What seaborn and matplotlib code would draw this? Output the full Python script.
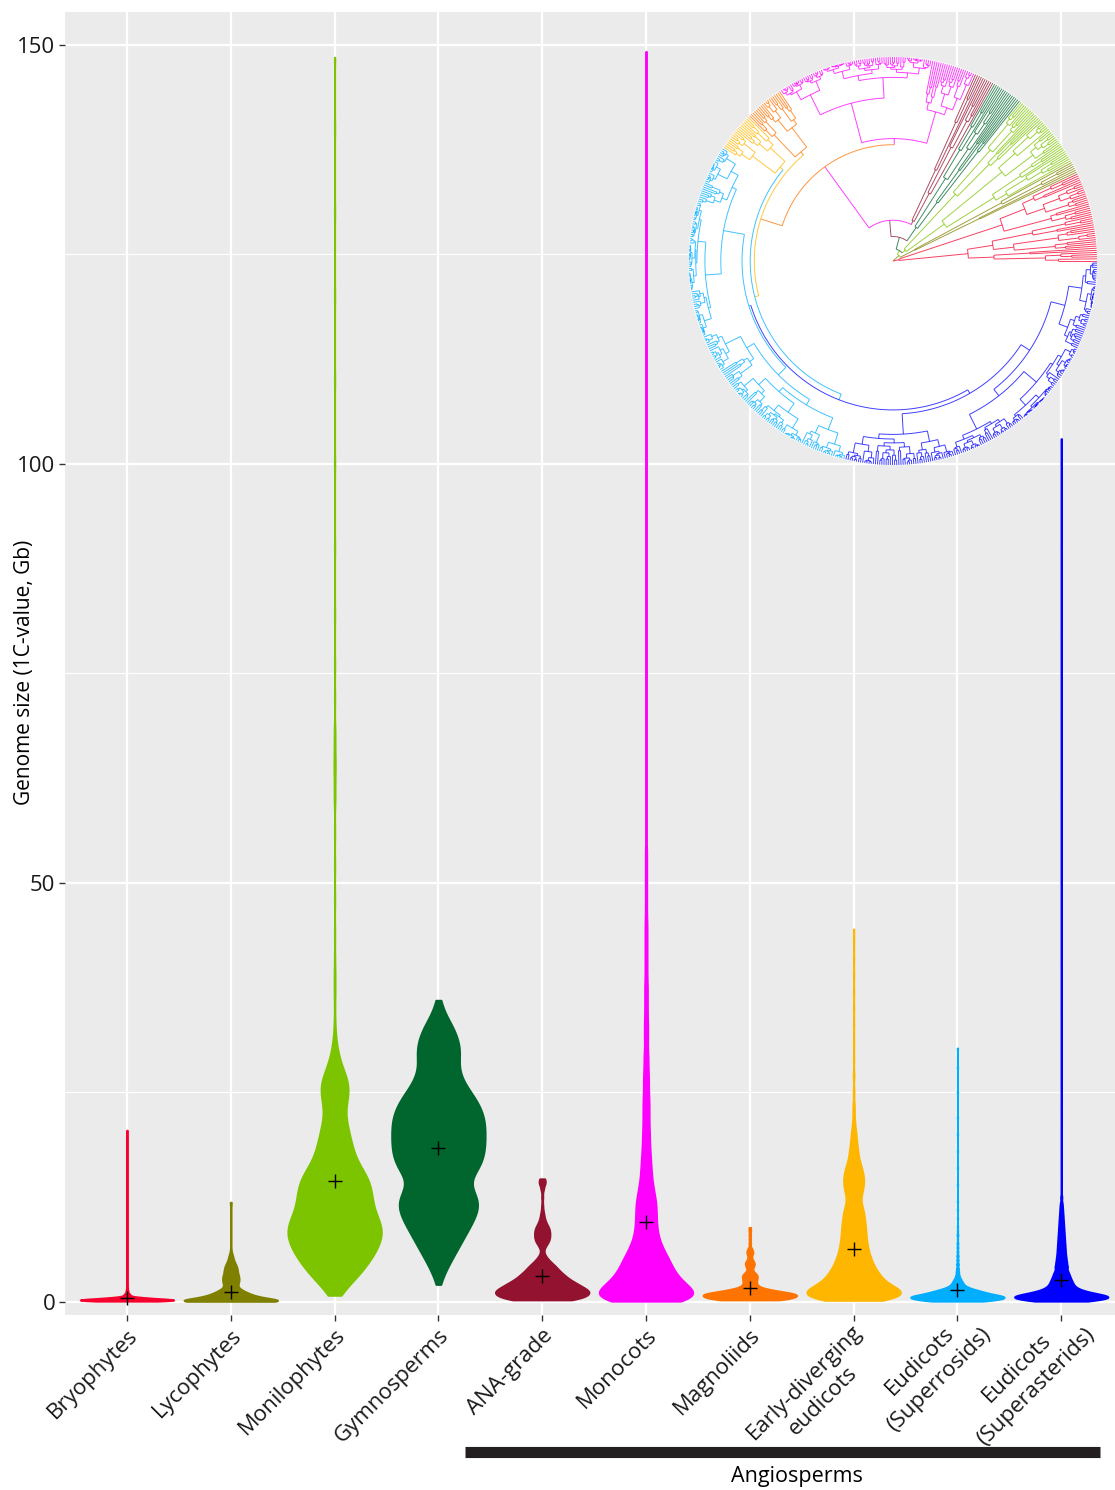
import numpy as np
import pandas as pd
import seaborn as sns
import matplotlib
matplotlib.use("Agg")
import matplotlib.pyplot as plt
from matplotlib.collections import LineCollection
from matplotlib.patches import Circle

plt.rcParams['font.family'] = ['Open Sans', 'DejaVu Sans']

# ---- data (genome size in Gb, with species counts) ----
groups = ["Bryophytes", "Lycophytes", "Monilophytes", "Gymnosperms", "ANA-grade",
          "Monocots", "Magnoliids", "Early-diverging eudicots",
          "Eudicots (Superrosids)", "Eudicots (Superasterids)"]
tick_labels = ["Bryophytes", "Lycophytes", "Monilophytes", "Gymnosperms", "ANA-grade",
               "Monocots", "Magnoliids", "Early-diverging\neudicots",
               "Eudicots\n(Superrosids)", "Eudicots\n(Superasterids)"]

bryo_gb = [0.1, 0.2, 0.3, 0.4, 0.5, 0.6, 0.8, 1.0, 1.3, 1.6, 2.0, 2.5, 3.0, 4.0, 5.0,
           6.0, 7.0, 8.0, 9.0, 10.0, 12.0, 14.0, 16.0, 18.0, 20.5]
bryo_n = [60, 100, 85, 55, 32, 20, 12, 8, 5, 3, 2, 1, 1, 1, 1,
          1, 1, 1, 1, 1, 1, 1, 1, 1, 1]

lyco_gb = [0.08, 0.35, 0.6, 0.85, 1.1, 1.35, 1.6, 1.85, 2.1, 2.35, 2.6, 2.85, 3.1, 3.35,
           3.6, 3.85, 4.1, 4.35, 4.6, 4.85, 5.1, 5.35, 5.6, 5.85, 6.1, 6.5, 7.0, 7.5,
           8.0, 8.5, 9.0, 9.5, 10.0, 10.5, 11.0, 11.5, 11.9]
lyco_n = [150, 70, 50, 38, 30, 22, 15, 12, 13, 14, 15, 15, 14, 13,
          12, 12, 11, 10, 8, 6, 5, 4, 3, 2, 1, 1, 1, 1,
          1, 1, 1, 1, 1, 1, 1, 1, 2]

moni_gb = [0.8, 1.5, 2.5, 3.5, 4.5, 5.5, 6.5, 7.5, 8.5, 9.5, 10.5, 11.5, 12.5, 13.5,
           14.5, 15.5, 16.5, 17.5, 18.5, 19.5, 20.5, 21.5, 22.5, 23.5, 24.5, 25.5, 26.5,
           27.5, 28.5, 29.5, 30.5, 31.5, 33, 35, 37, 39, 41, 44, 48, 52, 56, 60, 62,
           64, 66, 68, 72, 76, 82, 90, 100, 110, 120, 130, 140, 148.5]
moni_n = [8, 20, 38, 55, 68, 80, 90, 97, 100, 95, 86, 80, 78, 76,
          72, 62, 50, 42, 37, 33, 29, 25, 22, 24, 28, 30, 27,
          20, 13, 8, 5, 3, 2, 1, 2, 2, 1, 1, 1, 1, 1, 2, 2,
          3, 2, 2, 1, 1, 1, 1, 1, 1, 1, 1, 1, 1]

gymno_gb = [2.1, 3, 4, 5, 6, 7, 8, 9, 10, 11, 12, 13, 14, 15, 16, 17, 18, 19, 20, 21,
            22, 23, 24, 25, 26, 27, 28, 29, 30, 31, 32, 33, 34, 35, 36]
gymno_n = [3, 10, 18, 28, 38, 48, 58, 68, 78, 85, 88, 78, 66, 72, 88, 95, 99, 100, 100, 100,
           98, 92, 83, 70, 57, 48, 43, 45, 47, 44, 38, 30, 18, 10, 5]

ana_gb = [0.25, 0.75, 1.25, 1.75, 2.25, 2.75, 3.25, 3.75, 4.25, 4.75, 5.25, 5.75, 6.25,
          6.75, 7.25, 7.75, 8.25, 8.75, 9.25, 9.75, 10.25, 10.75, 11.5, 12.5, 13.5, 14.2, 14.7]
ana_n = [70, 95, 100, 85, 70, 55, 45, 35, 28, 18, 10, 4, 3,
         8, 14, 16, 16, 15, 10, 6, 4, 3, 2, 2, 4, 8, 6]

mono_gb = [0.1, 1, 2, 3, 4, 5, 6, 7, 8, 9, 10, 11, 12, 13, 14, 15, 16, 17, 18, 19, 20,
           21, 22, 23, 24, 25, 26, 27, 28, 29, 30, 31.5, 33, 34.5, 36, 37.5, 39, 40.5,
           42, 43.5, 45, 46.5, 48, 49.5, 51, 52.5, 54, 56, 60, 65, 70, 80, 90, 100, 110,
           120, 130, 140, 149.2]
mono_n = [75, 100, 80, 62, 52, 45, 36, 28, 23, 21, 20, 20, 19, 16, 13, 11, 10, 9, 8, 7, 7,
          6, 6, 6, 6, 5, 5, 5, 4, 4, 4, 5, 5, 4, 4, 4, 3, 3,
          3, 3, 3, 2, 2, 2, 2, 2, 2, 1, 1, 1, 1, 1, 1, 1, 1,
          1, 1, 1, 1]

magno_gb = [0.25, 0.5, 0.75, 1.0, 1.25, 1.5, 1.75, 2.0, 2.25, 2.5, 2.75, 3.0, 3.25, 3.5,
            3.75, 4.0, 4.25, 4.5, 4.75, 5.0, 5.25, 5.5, 5.75, 6.0, 6.25, 6.5, 7.0, 7.5,
            8.0, 8.5, 8.9]
magno_n = [70, 90, 100, 95, 65, 40, 22, 16, 14, 14, 15, 16, 15, 10,
           6, 6, 8, 10, 9, 6, 4, 4, 6, 7, 5, 3, 3, 3,
           3, 3, 3]

early_gb = [0.2, 0.7, 1.2, 1.7, 2.2, 2.7, 3.2, 3.7, 4.2, 4.7, 5.2, 5.7, 6.2, 6.7, 7.2,
            7.7, 8.2, 8.7, 9.2, 9.7, 10.2, 10.7, 11.2, 11.7, 12.2, 12.7, 13.2, 13.7,
            14.2, 14.7, 15.2, 15.7, 16.2, 16.7, 17.2, 17.7, 18.2, 18.7, 19.2, 19.7,
            20.2, 20.7, 21.5, 22.5, 23.5, 25, 27, 29, 31, 33, 35, 37, 39, 41, 43, 44.5]
early_n = [70, 95, 100, 85, 68, 58, 52, 46, 41, 37, 34, 31, 29, 27, 26,
           25, 24, 24, 23, 22, 21, 20, 18, 15, 14, 15, 17, 19,
           20, 20, 19, 17, 15, 12, 10, 9, 8, 7, 6, 5,
           5, 4, 4, 3, 3, 2, 2, 1, 1, 1, 1, 1, 1, 1, 1, 1]

rosid_gb = [0.1, 0.3, 0.5, 0.7, 0.9, 1.1, 1.3, 1.5, 1.7, 1.9, 2.1, 2.3, 2.5, 2.7, 2.9,
            3.2, 3.6, 4.0, 4.5, 5.0, 5.5, 6.0, 6.5, 7.0, 7.5, 8.0, 8.5, 9.0, 10, 11,
            12, 14, 16, 18, 20, 22, 25, 28, 30.3]
rosid_n = [60, 85, 100, 95, 75, 60, 48, 35, 24, 17, 13, 11, 9, 7, 6,
           6, 5, 4, 4, 3, 3, 2, 2, 2, 1, 2, 1, 1, 1, 1,
           1, 1, 1, 1, 1, 1, 1, 1, 1]

aster_gb = [0.1, 0.35, 0.6, 0.85, 1.1, 1.35, 1.6, 1.85, 2.1, 2.35, 2.6, 2.85, 3.1, 3.35,
            3.6, 3.85, 4.25, 4.75, 5.25, 5.75, 6.25, 6.75, 7.25, 7.75, 8.25, 8.75, 9.25,
            9.75, 10.25, 10.75, 11.25, 11.75, 12.5, 14, 16, 18, 20, 23, 26, 30, 35, 40,
            50, 60, 70, 80, 90, 103]
aster_n = [55, 85, 100, 80, 55, 40, 30, 25, 22, 21, 19, 17, 16, 14,
           13, 12, 22, 20, 18, 16, 15, 14, 13, 12, 11, 10, 9,
           8, 7, 6, 5, 4, 3, 1, 1, 1, 1, 1, 1, 1, 1, 1,
           1, 1, 1, 1, 1, 1]

sizes_gb = [bryo_gb, lyco_gb, moni_gb, gymno_gb, ana_gb, mono_gb, magno_gb, early_gb,
            rosid_gb, aster_gb]
counts = [bryo_n, lyco_n, moni_n, gymno_n, ana_n, mono_n, magno_n, early_n, rosid_n, aster_n]

mean_gb = [0.5, 1.2, 14.4, 18.4, 3.1, 9.5, 1.7, 6.3, 1.4, 2.6]

# tree inset: tips per clade, clade crown radius, backbone node radii
tree_tips = [43, 6, 37, 15, 10, 95, 19, 19, 183, 172]
crown_r = [0.03, 0.12, 0.08, 0.2, 0.22, 0.6, 0.7, 0.72, 0.74, 0.75]
backbone_r = [0.0, 0.04, 0.06, 0.12, 0.2, 0.57, 0.68, 0.7, 0.73]

# ---- style ----
colors = ["#F7002E", "#808000", "#7DC400", "#00662E", "#931230", "#FF00FF",
          "#FF7300", "#FFB600", "#00AEFF", "#0000FF"]
kde_bw = [0.1, 0.25, 1.0, 1.0, 0.35, 0.8, 0.18, 0.5, 0.15, 0.26]
# label offsets in points (two-line labels are nudged like in the original)
label_off = [(0, -7)] * 7 + [(-2, -4), (3, 7), (3, 7)]

fig = plt.figure(figsize=(11.15, 14.9), dpi=100)
ax = fig.add_axes([65 / 1115, 1 - 1315 / 1490, 1050 / 1115, 1303 / 1490])
ax.set_facecolor("#EBEBEB")

for g, vals, ns, col, bw in zip(groups, sizes_gb, counts, colors, kde_bw):
    obs = np.repeat(vals, ns)
    df = pd.DataFrame({"group": g, "gb": obs})
    sns.violinplot(data=df, x="group", y="gb", order=groups, color=col, linecolor=col,
                   linewidth=1.4, width=0.9, cut=0, inner=None, density_norm="width",
                   bw_method=bw / np.std(obs, ddof=1), gridsize=1000, saturation=1, ax=ax)

ax.plot(np.arange(len(groups)), mean_gb, ls="none", marker="+", ms=10, mew=1.0,
        color="black", zorder=5)

ax.set_xlim(-0.597, 9.518)
ax.set_ylim(-1.55, 153.9)
ax.set_yticks([0, 50, 100, 150])
ax.set_yticks([25, 75, 125], minor=True)
ax.set_xticks(range(len(groups)))
ax.set_xticklabels([])
ax.tick_params(axis="y", labelsize=16, pad=3)
ax.tick_params(which="major", length=4, width=1, color="#333333", labelcolor="#1A1A1A")
ax.tick_params(which="minor", length=0)
ax.set_axisbelow(True)
ax.yaxis.grid(True, which="major", color="white", lw=1.6)
ax.yaxis.grid(True, which="minor", color="white", lw=0.8)
ax.xaxis.grid(True, which="major", color="white", lw=1.6)
for s in ax.spines.values():
    s.set_visible(False)
ax.set_xlabel("")
ax.set_ylabel("Genome size (1C-value, Gb)", fontsize=15)
ax.yaxis.set_label_coords(-0.029, 0.493)

# category labels, rotated 45 degrees
for i, (lab, off) in enumerate(zip(tick_labels, label_off)):
    ax.annotate(lab, xy=(i, 0), xycoords=("data", "axes fraction"), xytext=off,
                textcoords="offset points", rotation=45, ha="right", va="top",
                rotation_mode="anchor", multialignment="center", linespacing=1.35,
                fontsize=16, color="#1A1A1A", annotation_clip=False)

# angiosperm bracket
tr = ax.get_xaxis_transform()
ax.plot([3.256, 9.374], [-0.1051, -0.1051], transform=tr, clip_on=False,
        color="#231F20", lw=8, solid_capstyle="butt")
ax.text(6.455, -0.1236, "Angiosperms", transform=tr, ha="center", va="center",
        fontsize=15.5, color="black")

# ---- circular tree inset ----
tax = fig.add_axes([689 / 1115, 1 - 465 / 1490, 408 / 1115, 408 / 1490])
tax.set_xlim(-1.0, 1.0)
tax.set_ylim(-1.0, 1.0)
tax.axis("off")
tax.add_patch(Circle((0, 0), 1.0, color="white", zorder=0))

n_tips = sum(tree_tips)
starts = np.concatenate([[0], np.cumsum(tree_tips)[:-1]])
SPLITS = [0.5, 0.3, 0.65, 0.4, 0.55, 0.22, 0.7, 0.45]
STEPS = [0.35, 0.2, 0.5, 0.25, 0.4, 0.15, 0.3, 0.55]
segs = {c: [] for c in colors}


def tip_angle(i):
    return 2 * np.pi * i / n_tips


def radial(a, r0, r1, col):
    segs[col].append([(r0 * np.cos(a), r0 * np.sin(a)), (r1 * np.cos(a), r1 * np.sin(a))])


def arc(a0, a1, r, col):
    if r <= 0:
        return
    t = np.linspace(a0, a1, max(2, int(abs(a1 - a0) * r * 80) + 2))
    segs[col].append(np.column_stack([r * np.cos(t), r * np.sin(t)]))


def subtree(first, n, r_node, level, col):
    if n == 1:
        return tip_angle(first)
    k = min(n - 1, max(1, int(round(n * SPLITS[level % len(SPLITS)]))))
    angs = []
    for j, (f, m) in enumerate([(first, k), (first + k, n - k)]):
        if m == 1:
            r_c = 1.0
        else:
            r_c = r_node + (1 - r_node) * STEPS[(level + j + f) % len(STEPS)]
        a = subtree(f, m, r_c, level + 1, col)
        radial(a, r_node, r_c, col)
        angs.append(a)
    arc(angs[0], angs[1], r_node, col)
    return sum(angs) / 2


def crown(k):
    return subtree(int(starts[k]), tree_tips[k], crown_r[k], k, colors[k])


def backbone(k):
    r = backbone_r[k]
    a1 = crown(k)
    radial(a1, r, crown_r[k], colors[k])
    if k == len(tree_tips) - 2:
        a2 = crown(k + 1)
        radial(a2, r, crown_r[k + 1], colors[k + 1])
    else:
        a2 = backbone(k + 1)
        radial(a2, r, backbone_r[k + 1], colors[k + 1])
    arc(a1, a2, r, colors[k + 1])
    return (a1 + a2) / 2


backbone(0)
for c, s in segs.items():
    tax.add_collection(LineCollection(s, colors=c, linewidths=0.7, alpha=0.75))

fig.savefig("out.png", dpi=100)
